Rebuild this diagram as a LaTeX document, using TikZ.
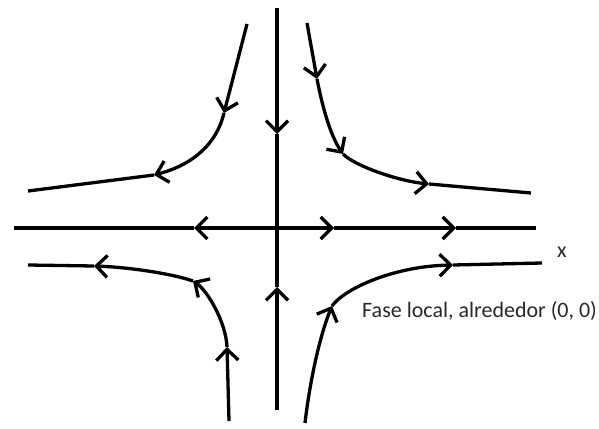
\documentclass[tikz,border=0pt]{standalone}
\usepackage{fontspec}
\setmainfont{Carlito}
\usepackage{xcolor}
\usetikzlibrary{arrows.meta}
\definecolor{labelgray}{RGB}{40,40,40}

\begin{document}
\begin{tikzpicture}[
  x=1pt, y=-1pt,
  orbit/.style={line width=3.3pt},
  arr/.style={orbit, -{Straight Barb[length=11pt, width=22pt]}},
  lbl/.style={anchor=base west, inner sep=0pt, text=labelgray, font=\fontsize{22}{26}\selectfont}
]
\useasboundingbox (0,0) rectangle (599,428);
% axes
\draw[arr] (277,8) -- (277,134);
\draw[orbit] (277,134) -- (277,287);
\draw[arr] (277,410) -- (277,287);
\draw[arr] (277,228) -- (194,228);
\draw[orbit] (194,228) -- (14,228);
\draw[arr] (277,228) -- (334,228);
\draw[arr] (334,228) -- (456,228);
\draw[orbit] (456,228) -- (536,228);
% upper left
\draw[arr] (247,24) -- (224,113);
\draw[arr] (224,113) .. controls (215,150) and (185,167) .. (154,175);
\draw[orbit] (154,175) -- (28,191);
% upper right
\draw[arr] (307,23) -- (317,79);
\draw[arr] (317,79) .. controls (322,105) and (330,135) .. (343,154);
\draw[arr] (343,154) .. controls (355,166) and (398,181) .. (429,184);
\draw[orbit] (429,184) -- (531,193);
% lower left
\draw[arr] (229,421) -- (227,347);
\draw[arr] (227,347) .. controls (226,322) and (207,290) .. (193,281);
\draw[arr] (193,281) .. controls (170,273) and (125,267) .. (94,266);
\draw[orbit] (94,266) -- (28,265);
% lower right
\draw[arr] (305,423) .. controls (310,380) and (320,335) .. (332,306);
\draw[arr] (332,306) .. controls (345,288) and (395,266) .. (453,265);
\draw[orbit] (453,265) -- (542,263);
% labels
\node[lbl] (xlabel) at (557,257) {x};
\node[lbl] (caption) at (362,317) {Fase local, alrededor (0, 0)};
\end{tikzpicture}
\end{document}
